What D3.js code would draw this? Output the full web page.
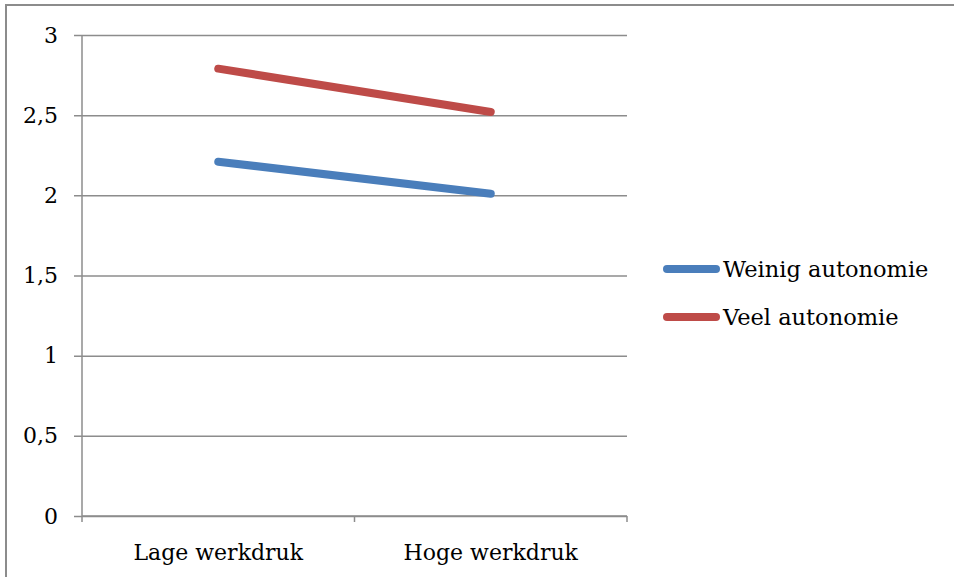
<!DOCTYPE html>
<html>
<head>
<meta charset="utf-8">
<script src="https://cdn.jsdelivr.net/npm/d3@7"></script>
<style>
  html, body { margin: 0; padding: 0; background: #fff; }
  svg text { font-family: "DejaVu Serif", serif; fill: #000; }
</style>
</head>
<body>
<svg id="chart" width="954" height="577"></svg>
<script>
// Categories on the x axis
const categories = ["Lage werkdruk", "Hoge werkdruk"];
// Series names and values
const seriesNames = ["Weinig autonomie", "Veel autonomie"];
const weinigValues = [2.21, 2.01];
const veelValues = [2.79, 2.52];
const seriesColors = ["#4a7ebb", "#be4b48"];
// Y-axis ticks
const yTicks = [0, 0.5, 1, 1.5, 2, 2.5, 3];

const svg = d3.select("#chart");
const W = 954, H = 577;
const plot = { left: 82, right: 627, top: 35, bottom: 516 };
const fontSize = 22;
const lineWidth = 8;

// Outer frame (top and left edges visible)
svg.append("path")
  .attr("d", `M6,${H} L6,5 L${W},5`)
  .attr("fill", "none")
  .attr("stroke", "#8c8c8c")
  .attr("stroke-width", 2);

const x = d3.scaleBand().domain(categories).range([plot.left, plot.right]);
const y = d3.scaleLinear().domain([0, 3]).range([plot.bottom, plot.top]);

// Horizontal gridlines with left tick marks
const yAxis = d3.axisLeft(y)
  .tickValues(yTicks)
  .tickSize(-(plot.right - plot.left))
  .tickFormat(d => String(d).replace(".", ","));
const gy = svg.append("g").attr("transform", `translate(${plot.left},0)`).call(yAxis);
gy.attr("font-size", fontSize).attr("font-family", "DejaVu Serif, serif");
gy.select(".domain").remove();
gy.selectAll(".tick line")
  .attr("x1", -8)
  .attr("stroke", "#8c8c8c")
  .attr("stroke-width", 1.5);
gy.selectAll(".tick text")
  .attr("x", -24)
  .attr("font-size", fontSize)
  .attr("fill", "#000");

// Vertical axis line
svg.append("line")
  .attr("x1", plot.left).attr("x2", plot.left)
  .attr("y1", plot.top).attr("y2", plot.bottom)
  .attr("stroke", "#8c8c8c").attr("stroke-width", 1.5);

// X axis with category boundary ticks
const gx = svg.append("g").attr("transform", `translate(0,${plot.bottom})`);
gx.append("line")
  .attr("x1", plot.left).attr("x2", plot.right)
  .attr("stroke", "#8c8c8c").attr("stroke-width", 1.5);
const boundaries = [plot.left].concat(categories.map(c => x(c) + x.bandwidth()));
gx.selectAll("line.btick").data(boundaries).join("line")
  .attr("class", "btick")
  .attr("x1", d => d).attr("x2", d => d)
  .attr("y1", 0).attr("y2", 6)
  .attr("stroke", "#8c8c8c").attr("stroke-width", 1.5);
gx.selectAll("text").data(categories).join("text")
  .attr("x", d => x(d) + x.bandwidth() / 2)
  .attr("y", 44)
  .attr("text-anchor", "middle")
  .attr("font-size", fontSize)
  .text(d => d);

// Series lines
const allSeries = [weinigValues, veelValues];
const line = d3.line()
  .x((d, i) => x(categories[i]) + x.bandwidth() / 2)
  .y(d => y(d));
svg.selectAll("path.series").data(allSeries).join("path")
  .attr("class", "series")
  .attr("d", d => line(d))
  .attr("fill", "none")
  .attr("stroke", (d, i) => seriesColors[i])
  .attr("stroke-width", lineWidth)
  .attr("stroke-linecap", "round")
  .attr("stroke-linejoin", "round");

// Legend
const legend = svg.append("g");
const legendY = [269, 317];
seriesNames.forEach((name, i) => {
  legend.append("line")
    .attr("x1", 667).attr("x2", 716)
    .attr("y1", legendY[i]).attr("y2", legendY[i])
    .attr("stroke", seriesColors[i])
    .attr("stroke-width", lineWidth)
    .attr("stroke-linecap", "round");
  legend.append("text")
    .attr("x", 723)
    .attr("y", legendY[i])
    .attr("dy", "0.35em")
    .attr("font-size", 22.5)
    .text(name);
});
</script>
</body>
</html>
